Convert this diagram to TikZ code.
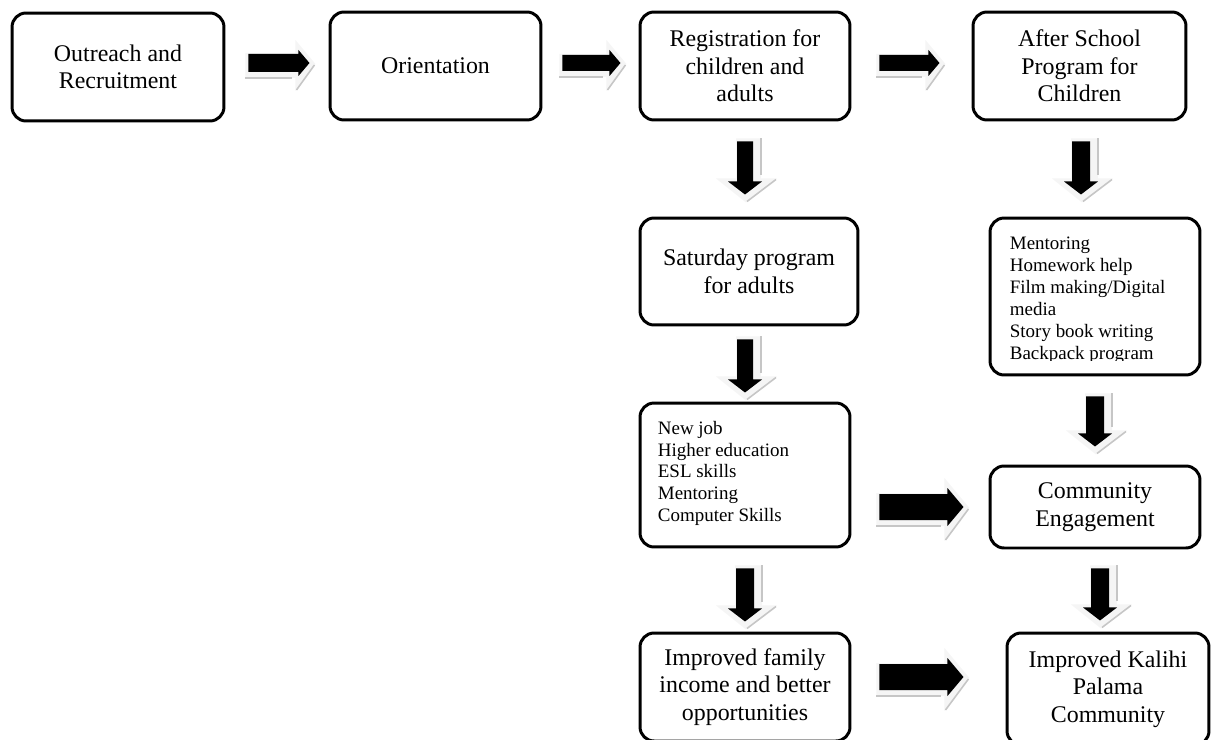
\documentclass[tikz,border=0pt]{standalone}
\usepackage{fontspec}
\setmainfont{Liberation Serif}
\usetikzlibrary{calc}

% Block arrow pointing right: #1 tail centre, #2 length, #3 body half-width,
% #4 head half-width, #5 head length. Soft shadow falls below.
\newcommand{\harrow}[5]{%
  \begin{scope}[shift={#1}]
    \fill[shadowfill] (-3,{-#3-1}) -- ({#2-#5-3},{-#3-1}) -- ({#2-#5-3},{-#4-10})
      -- ({#2+6},1) -- ({#2-#5-3},{#4+15}) -- ({#2-#5-3},{#3+6}) -- (-3,{#3+6}) -- cycle;
    \draw[shadowedge] (-3,{#3+6}) -- ({#2-#5-6},{#3+6});
    \draw[shadowedge] ({#2-#5-2},{#4+14}) -- ({#2+5},2);
    \fill[black] (0,{-#3}) -- ({#2-#5},{-#3}) -- ({#2-#5},{-#4}) -- (#2,0)
      -- ({#2-#5},#4) -- ({#2-#5},#3) -- (0,#3) -- cycle;
  \end{scope}}

% Block arrow pointing down: same parameters, shadow falls to the right.
\newcommand{\varrow}[5]{%
  \begin{scope}[shift={#1}]
    \fill[shadowfill] ({-#3-1},-3) -- ({-#3-1},{#2-#5-3}) -- ({-#4-12},{#2-#5-3})
      -- (1,{#2+8}) -- ({#4+15},{#2-#5-3}) -- ({#3+8},{#2-#5-3}) -- ({#3+8},-3) -- cycle;
    \draw[shadowedge] ({#3+8},-3) -- ({#3+8},{#2-#5-6});
    \draw[shadowedge] ({#4+14},{#2-#5-2}) -- (2,{#2+7});
    \fill[black] ({-#3},0) -- ({-#3},{#2-#5}) -- ({-#4},{#2-#5}) -- (0,#2)
      -- (#4,{#2-#5}) -- (#3,{#2-#5}) -- (#3,0) -- cycle;
  \end{scope}}

\begin{document}
\begin{tikzpicture}[x=0.02cm, y=-0.02cm,
  box/.style={draw=black, line width=1.7pt, rounded corners=8pt, align=center,
    inner sep=0pt, font=\fontsize{13.6}{15.6}\selectfont},
  listtext/.style={align=left, inner sep=0pt, anchor=north west,
    font=\fontsize{10.8}{12.5}\selectfont},
  shadowfill/.style={fill=gray!8, draw=none},
  shadowedge/.style={draw=gray!45, line width=0.9pt},
]
\useasboundingbox (0,0) rectangle (1211,740);

% top row
\node[box, minimum width=4.24cm, minimum height=2.16cm] (outreach) at (118,67)
  {Outreach and\\Recruitment};
\node[box, minimum width=4.22cm, minimum height=2.16cm] (orient) at (435.5,66)
  {Orientation};
\node[box, minimum width=4.20cm, minimum height=2.16cm] (register) at (745,66)
  {Registration for\\children and\\adults};
\node[box, minimum width=4.26cm, minimum height=2.16cm] (afterschool) at (1079.5,66)
  {After School\\Program for\\Children};

% adults column
\node[box, minimum width=4.36cm, minimum height=2.14cm] (saturday) at (749,271.5)
  {Saturday program\\for adults};
\node[box, minimum width=4.20cm, minimum height=2.88cm] (gains) at (745,475) {};
\node[listtext] (gainstext) at ($(gains.north west)+(19,19)$)
  {New job\\Higher education\\ESL skills\\Mentoring\\Computer Skills};
\node[box, minimum width=4.20cm, minimum height=2.16cm] (income) at (745,687)
  {Improved family\\income and better\\opportunities};

% children column
\node[box, minimum width=4.20cm, minimum height=3.14cm] (activities) at (1095,296.5) {};
\begin{scope}
  \clip (990,218) rectangle (1200,360);
  \node[listtext] (activitiestext) at ($(activities.north west)+(21,20)$)
    {Mentoring\\Homework help\\Film making/Digital\\media\\Story book writing\\Backpack program};
\end{scope}
\node[box, minimum width=4.20cm, minimum height=1.64cm] (engage) at (1095,507)
  {Community\\Engagement};
\node[box, minimum width=4.04cm, minimum height=2.24cm] (kalihi) at (1108,689)
  {Improved Kalihi\\Palama\\Community};

% connecting block arrows
\harrow{($(outreach.east)+(23,-4)$)}{61}{9}{13}{11}
\harrow{($(orient.east)+(20,-3)$)}{58}{8}{13}{11}
\harrow{($(register.east)+(28,-3)$)}{60}{8}{13}{11}
\harrow{($(gains.east)+(28,32)$)}{84}{13}{19}{16}
\harrow{($(income.east)+(28,-10)$)}{84}{13}{19}{16}

\varrow{($(register.south)+(0,20)$)}{53}{8}{17}{13}
\varrow{($(afterschool.south)+(1.5,20)$)}{53}{9}{17}{13}
\varrow{($(saturday.south)+(-4,13)$)}{53}{8}{17}{13}
\varrow{($(activities.south)+(0,20)$)}{50}{9}{17}{13}
\varrow{($(gains.south)+(0,20)$)}{53}{9}{17}{13}
\varrow{($(engage.south)+(5,19)$)}{52}{9}{17}{13}
\end{tikzpicture}
\end{document}
